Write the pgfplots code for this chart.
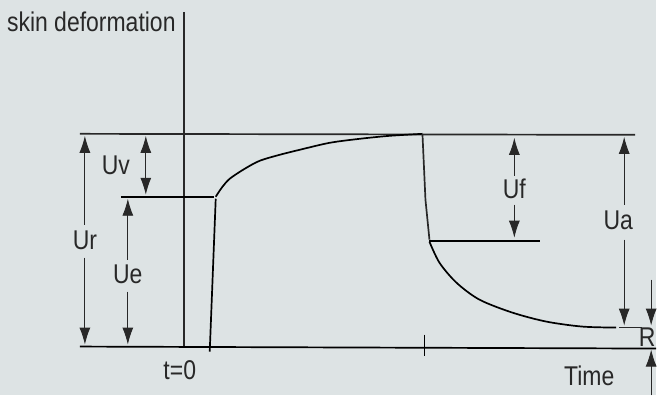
\documentclass[border=0pt]{standalone}
\usepackage{fontspec}
\setmainfont{Liberation Sans}
\usepackage{graphicx}
\usepackage{pgfplots}
\pgfplotsset{compat=1.18}
\usetikzlibrary{arrows.meta}
\definecolor{paper}{RGB}{221,227,228}
\definecolor{ink}{RGB}{40,40,40}
\newcommand\tall[1]{\scalebox{1}[1.18]{#1}}

\begin{document}
\begin{tikzpicture}[
  arr/.style={ink, line width=0.9pt, -{Latex[length=17pt,width=11pt]}},
  lbl/.style={font=\fontsize{23}{26}\selectfont, text=ink, inner sep=0pt},
  ]
\begin{axis}[
  width=657pt, height=396pt, scale only axis,
  xmin=0, xmax=657, ymin=0, ymax=396, y dir=reverse,
  hide axis, clip=false,
  cycle list={{ink, solid, mark=none}},
  every axis plot/.append style={line width=1.7pt, mark=none},
  ]
\fill[paper] (rel axis cs:0,0) rectangle (rel axis cs:1,1);

% axes of the sketch
\addplot+ coordinates {(184,12) (184,348)};
\addplot+ coordinates {(80,347) (657,349)};
\addplot+ coordinates {(425,335) (425,356)};
% levels
\addplot+ coordinates {(80,134) (636,135)};
\addplot+ coordinates {(121,197) (214,197)};
\addplot+ coordinates {(430,241) (541,241)};
\addplot+ coordinates {(620,328) (643,328)};

% response curve
\addplot+ coordinates {(210,352) (216,199)};
\addplot+[smooth] coordinates {(216,197) (222,188) (230,179) (245,169) (260,161)
  (280,155) (300,150) (330,143) (360,139) (390,136) (423,134)};
\addplot+ coordinates {(423,134) (426,200) (430,240)};
\addplot+[smooth] coordinates {(430,242) (440,263) (457,283) (480,300) (513,313)
  (547,322) (583,327) (617,328)};

% dimension arrows
\addplot[arr] coordinates {(85,225) (85,136)};
\addplot[arr] coordinates {(85,258) (85,345)};
\addplot[arr] coordinates {(128,260) (128,199)};
\addplot[arr] coordinates {(128,292) (128,345)};
\addplot[arr, {Latex[length=17pt,width=11pt]}-{Latex[length=17pt,width=11pt]}]
  coordinates {(146,136) (146,195)};
\addplot[arr] coordinates {(515,176) (515,138)};
\addplot[arr] coordinates {(515,205) (515,238)};
\addplot[arr] coordinates {(625,205) (625,137)};
\addplot[arr] coordinates {(625,240) (625,326)};
\addplot[arr] coordinates {(652,280) (652,326)};
\addplot[arr] coordinates {(652,396) (652,350)};

% labels
\node[lbl, anchor=base east] at (axis cs:176,32) {\tall{skin deformation}};
\node[lbl] at (axis cs:116,166) {\tall{Uv}};
\node[lbl] at (axis cs:85,241) {\tall{Ur}};
\node[lbl] at (axis cs:128,275) {\tall{Ue}};
\node[lbl] at (axis cs:515,189) {\tall{Uf}};
\node[lbl] at (axis cs:619,221) {\tall{Ua}};
\node[lbl] at (axis cs:648,338) {\tall{R}};
\node[lbl] at (axis cs:180,371) {\tall{t=0}};
\node[lbl] at (axis cs:590,376) {\tall{Time}};
\end{axis}
\end{tikzpicture}
\end{document}
